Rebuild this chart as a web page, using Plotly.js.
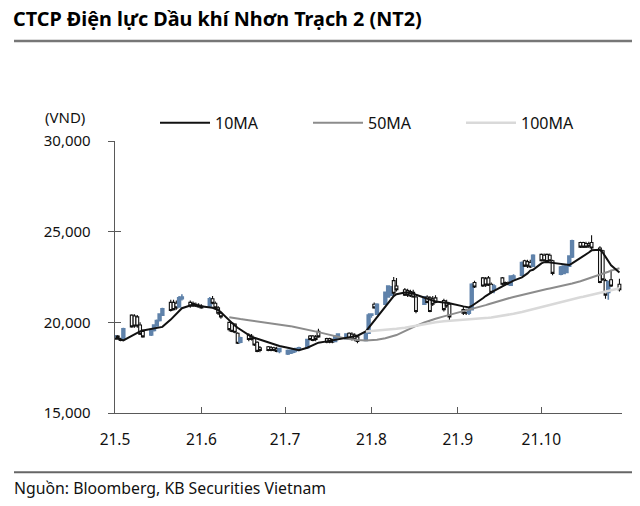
<!DOCTYPE html>
<html>
<head>
<meta charset="utf-8">
<script src="https://cdn.plot.ly/plotly-3.0.1.min.js"></script>
<style>html,body{margin:0;padding:0;background:#fff;}#chart{width:640px;height:506px;}</style>
</head>
<body>
<div id="chart"></div>
<script>
// Trading days (2021, month-day)
const days = ['05-04','05-05','05-06','05-07','05-10','05-11','05-12','05-13','05-14','05-17','05-18','05-19','05-20','05-21','05-24','05-25','05-26','05-27','05-28','05-31',
'06-01','06-02','06-03','06-04','06-07','06-08','06-09','06-10','06-11','06-14','06-15','06-16','06-17','06-18','06-21','06-22','06-23','06-24','06-25','06-28','06-29','06-30',
'07-01','07-02','07-05','07-06','07-07','07-08','07-09','07-12','07-13','07-14','07-15','07-16','07-19','07-20','07-21','07-22','07-23','07-26','07-27','07-28','07-29','07-30',
'08-02','08-03','08-04','08-05','08-06','08-09','08-10','08-11','08-12','08-13','08-16','08-17','08-18','08-19','08-20','08-23','08-24','08-25','08-26','08-27','08-30','08-31',
'09-01','09-06','09-07','09-08','09-09','09-10','09-13','09-14','09-15','09-16','09-17','09-20','09-21','09-22','09-23','09-24','09-27','09-28','09-29','09-30',
'10-01','10-04','10-05','10-06','10-07','10-08','10-11','10-12','10-13','10-14','10-15','10-18','10-19','10-20','10-21','10-22','10-25','10-26','10-27','10-28','10-29',
'11-01'];

const openP = [19200,19250,19100,19100,20400,20350,20300,19850,19500,19300,19550,19800,20100,20400,21100,21100,21050,20850,21300,21100,
21050,21000,20950,20900,20900,21300,21050,20800,20500,20000,19950,19900,19400,18900,19300,19250,19100,18900,18600,18650,18600,18600,
18550,18400,18250,18300,18350,18450,18500,18600,19250,19250,19200,19500,19100,19100,19050,18950,19150,19100,19400,19350,19300,19200,
19000,19400,20400,21000,20450,21000,21400,21500,22300,22000,21800,21750,21700,21650,21400,21000,21400,21350,21300,21350,21200,21100,
21000,20700,20650,20500,20700,22200,22450,22400,22450,22100,21800,22450,22200,22150,22050,22400,22600,23400,23350,23300,
23100,23750,23700,23750,23700,23400,22650,22700,22750,23100,23600,24400,24400,24350,24350,24400,24100,23950,22300,21650,22350,
22100];
const highP = [19300,19300,19150,19700,20450,20450,20400,20000,19600,19650,19900,20150,20500,20800,21250,21250,21200,21450,21550,21200,
21150,21100,21050,21000,21400,21450,21150,20900,20600,20050,20000,19950,19450,19200,19400,19350,19150,18950,18700,18700,18700,18650,
18650,18600,18500,18500,18550,18600,18650,19100,19300,19300,19300,19650,19150,19150,19100,19300,19400,19400,19450,19450,19400,19300,
19450,20500,20500,21100,21050,21700,22050,22000,22500,22450,21900,21850,21800,21800,21450,21450,21500,21450,21450,21500,21300,21250,
21100,20850,20750,20800,22150,22300,22500,22500,22550,22200,22100,22500,22250,22250,22600,22650,23350,23450,23450,23450,
23750,23800,23800,23800,23800,23450,23100,23150,23150,23700,24550,24450,24450,24450,24450,24800,24200,24000,22400,22300,22900,
22400];
const lowP = [19100,19100,18950,19050,19700,19700,19700,19300,19150,19250,19500,19750,20050,20350,20600,20650,20700,20800,21200,20800,
20850,20850,20800,20750,20850,21000,20700,20400,20200,19500,19450,19400,18800,18850,18950,19000,18700,18350,18350,18400,18400,18400,
18350,18300,18200,18250,18300,18350,18400,18550,19000,18950,18950,19150,18850,18850,18850,18900,19100,19050,19050,19000,18950,18850,
18950,19350,20250,20750,20400,20950,21350,21450,21500,21700,21450,21400,21400,21350,20500,20950,21050,20550,20900,21050,20600,20800,
20100,20400,20400,20400,20650,21900,21950,21950,22000,21600,21600,22050,22050,22050,22000,22350,22550,23050,23000,23000,
23050,23350,23350,23300,23350,22600,22600,22650,22700,23050,23550,24100,24100,24100,24100,24000,22150,22300,21300,21250,21950,
21700];
const closeP = [19250,19150,19000,19650,19750,19800,19800,19350,19200,19600,19850,20100,20450,20750,20650,20700,20800,21350,21400,20900,
20950,20900,20850,20800,21300,21050,20800,20500,20300,19600,19500,19450,18850,19150,19050,19050,18750,18400,18450,18450,18450,18450,
18400,18550,18450,18450,18500,18550,18600,19050,19050,19000,19050,19200,18900,18900,18900,19250,19350,19350,19100,19050,19050,18950,
19400,20400,20450,20800,21000,21650,22000,21950,21600,21800,21500,21500,21450,21400,20600,21400,21100,20600,21000,21100,20700,20900,
20300,20500,20500,20700,22100,21950,22000,22050,22050,21650,22000,22100,22100,22100,22550,22550,23300,23100,23100,23050,
23700,23400,23400,23350,23400,22700,23050,23100,23100,23650,24500,24150,24150,24150,24200,24100,22200,22350,21500,22250,22000,
21800];

const ma10 = [19100,19100,19050,19000,19250,19350,19450,19500,19550,19650,19670,19700,19710,19750,20150,20300,20480,20620,20780,20930,
20940,20930,20900,20880,20830,20800,20740,20680,20560,20100,19950,19820,19700,19600,19270,19200,19150,19100,19020,18880,18830,18780,
18740,18700,18600,18560,18520,18490,18460,18600,18680,18750,18830,18880,18950,18980,19000,19030,19060,19120,19150,19190,19220,19260,
19500,19700,19900,20100,20300,20900,21100,21300,21450,21550,21650,21640,21620,21580,21520,21350,21300,21250,21200,21150,21100,21080,
21050,20880,20830,20820,20900,21000,21330,21450,21560,21650,21730,21980,22080,22150,22220,22300,22480,22580,22700,22850,
22900,23250,23320,23320,23300,23280,23220,23180,23150,23160,23250,23530,23650,23750,23850,23970,24000,23850,23600,23400,23150,
22750];

const ma50 = [null,null,null,null,null,null,null,null,null,null,null,null,null,null,null,null,null,null,null,null,
null,null,null,null,null,null,null,null,null,20280,20250,20220,20200,20180,20120,20100,20080,20060,20050,19980,19960,19940,
19920,19900,19820,19790,19760,19730,19700,19600,19570,19530,19500,19460,19350,19310,19270,19240,19200,19100,19080,19050,19030,19020,
19000,19000,19010,19020,19040,19120,19160,19200,19240,19300,19520,19600,19660,19730,19800,19990,20050,20100,20150,20200,20330,20370,
20400,20590,20630,20670,20710,20760,20900,20950,21000,21050,21090,21230,21270,21310,21360,21400,21520,21560,21600,21640,
21680,21770,21800,21840,21870,21900,22000,22040,22070,22100,22140,22270,22320,22370,22410,22460,22600,22650,22720,22790,22850,
22980];

const ma100 = [null,null,null,null,null,null,null,null,null,null,null,null,null,null,null,null,null,null,null,null,
null,null,null,null,null,null,null,null,null,null,null,null,null,null,null,null,null,null,null,null,null,null,
null,null,null,null,null,null,null,null,null,null,null,null,null,null,null,null,null,null,null,null,null,null,
19490,19500,19510,19530,19540,19580,19590,19610,19620,19640,19700,19720,19750,19780,19810,19900,19930,19960,19990,20010,20060,20070,
20080,20120,20130,20140,20150,20170,20210,20230,20250,20270,20290,20360,20390,20420,20440,20470,20570,20610,20650,20690,
20730,20840,20880,20920,20960,21000,21110,21150,21190,21230,21270,21380,21410,21450,21480,21510,21620,21650,21690,21730,21770,
21880];

const tickDates = ['2021-05-04','2021-06-04','2021-07-04','2021-08-04','2021-09-04','2021-10-04'];
const tickLabels = ['21.5','21.6','21.7','21.8','21.9','21.10'];
const yTicks = [15000, 20000, 25000, 30000];
const seriesNames = ['10MA','50MA','100MA'];

const x = days.map(d => '2021-' + d);

// pixel helpers for paper coords (plot area 115..622, 141..412.7)
const L = 115, R = 622, T = 141, B = 412.7;
const px = v => (v - L) / (R - L);
const py = v => (B - v) / (B - T);

const font = 'Noto Sans, sans-serif';

const traces = [
  {
    type: 'candlestick', x: x, open: openP, high: highP, low: lowP, close: closeP,
    showlegend: false, whiskerwidth: 0,
    increasing: {line: {color: '#5f82aa', width: 1.6}, fillcolor: '#6184ad'},
    decreasing: {line: {color: '#111111', width: 1.1}, fillcolor: '#ffffff'}
  },
  {type: 'scatter', mode: 'lines', x: x, y: ma100, name: seriesNames[2], yaxis: 'y2', legendrank: 3,
   line: {color: '#d9d9d9', width: 2.5}},
  {type: 'scatter', mode: 'lines', x: x, y: ma50, name: seriesNames[1], legendrank: 2,
   line: {color: '#8c8c8c', width: 2}},
  {type: 'scatter', mode: 'lines', x: x, y: ma10, name: seriesNames[0], legendrank: 1,
   line: {color: '#111111', width: 2}}
];

const axisColor = '#595959';
const layout = {
  width: 640, height: 506,
  margin: {l: L, r: 640 - R, t: T, b: 506 - B, pad: 0},
  paper_bgcolor: '#fff', plot_bgcolor: '#fff',
  font: {family: font, size: 15, color: '#111'},
  title: {text: '<b>CTCP Điện lực Dầu khí Nhơn Trạch 2 (NT2)</b>', x: 13/640, xref: 'container', xanchor: 'left',
          y: 1 - 19/506, yref: 'container', yanchor: 'middle', font: {family: font, size: 19.8, color: '#000'}},
  boxgap: 0, boxgroupgap: 0,
  showlegend: true,
  legend: {orientation: 'h', x: px(155), xanchor: 'left', y: py(106), yanchor: 'top',
           itemwidth: 50, entrywidth: 88, entrywidthmode: 'pixels', traceorder: 'normal',
           font: {family: font, size: 16, color: '#111'}, bgcolor: 'rgba(0,0,0,0)'},
  xaxis: {type: 'date', range: ['2021-05-04', '2021-11-01 22:00'], tickvals: tickDates, ticktext: tickLabels,
          ticks: 'inside', ticklen: 6, tickcolor: axisColor, tickwidth: 1,
          showline: true, linecolor: axisColor, linewidth: 1.3, showgrid: false, zeroline: false,
          ticklabelstandoff: 12, tickfont: {family: font, size: 15.5, color: '#111'},
          rangeslider: {visible: false}, fixedrange: true},
  yaxis: {range: [15000, 30000], tickvals: yTicks, tickformat: ',', ticks: 'outside', ticklen: 6,
          tickcolor: axisColor, tickwidth: 1, showline: true, linecolor: axisColor, linewidth: 1.3,
          showgrid: false, zeroline: false, ticklabelstandoff: 14, tickfont: {family: font, size: 15, color: '#111'}},
  yaxis2: {range: [15000, 30000], overlaying: 'y', side: 'left', tickvals: yTicks, ticks: 'inside', ticklen: 6,
           tickcolor: axisColor, tickwidth: 1, showticklabels: false, showline: false, showgrid: false, zeroline: false},
  shapes: [
    {type: 'line', xref: 'paper', yref: 'paper', x0: px(14), x1: px(632), y0: py(41), y1: py(41),
     line: {color: '#777777', width: 2.5}},
    {type: 'line', xref: 'paper', yref: 'paper', x0: px(14), x1: px(632), y0: py(472), y1: py(472),
     line: {color: '#666666', width: 2}}
  ],
  annotations: [
    {text: '(VND)', xref: 'paper', yref: 'paper', x: px(65), y: py(117), xanchor: 'center', yanchor: 'middle',
     showarrow: false, font: {family: font, size: 15, color: '#111'}},
    {text: 'Nguồn: Bloomberg, KB Securities Vietnam', xref: 'paper', yref: 'paper', x: px(12), y: py(488),
     xanchor: 'left', yanchor: 'middle', showarrow: false, font: {family: font, size: 15.8, color: '#111'}}
  ]
};

Plotly.newPlot('chart', traces, layout, {staticPlot: true, displayModeBar: false});
</script>
</body>
</html>
